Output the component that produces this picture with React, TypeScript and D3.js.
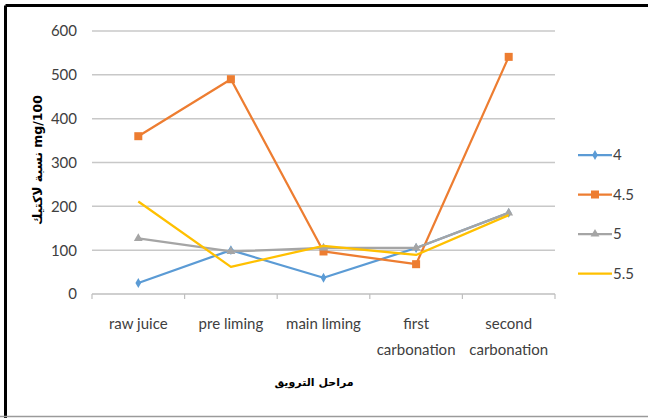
import React from "react";
import * as d3 from "d3";

const stages = ["raw juice", "pre liming", "main liming", "first carbonation", "second carbonation"];
const stageLines = [["raw juice"], ["pre liming"], ["main liming"], ["first", "carbonation"], ["second", "carbonation"]];
const seriesNames = ["4", "4.5", "5", "5.5"];
const values4 = [25, 100, 37, 105, 185];
const values45 = [360, 490, 97, 68, 541];
const values5 = [127, 97, 105, 105, 185];
const values55 = [211, 62, 110, 89, 180];
const yTicks = [0, 100, 200, 300, 400, 500, 600];
const colors = ["#5b9bd5", "#ed7d31", "#a5a5a5", "#ffc000"];
const markers = ["diamond", "square", "triangle", "none"];

const W = 648;
const H = 418;
const plot = { left: 92, right: 555, top: 31, bottom: 294 };

const x = d3.scaleBand<string>().domain(stages).range([plot.left, plot.right]);
const y = d3.scaleLinear().domain([0, 600]).range([plot.bottom, plot.top]);
const cx = (s: string) => (x(s) as number) + x.bandwidth() / 2;

const allSeries = [values4, values45, values5, values55];
const tickFont = "Lato, 'Open Sans', sans-serif";

function Marker({ kind, px, py, color }: { kind: string; px: number; py: number; color: string }) {
  if (kind === "square") {
    return <rect x={px - 4} y={py - 4} width={8} height={8} fill={color} />;
  }
  if (kind === "diamond") {
    const d = d3.symbol(d3.symbolDiamond, 28)();
    return <path d={d || ""} transform={`translate(${px},${py})`} fill={color} />;
  }
  if (kind === "triangle") {
    const d = d3.symbol(d3.symbolTriangle, 34)();
    return <path d={d || ""} transform={`translate(${px},${py})`} fill={color} />;
  }
  return null;
}

export default function App() {
  const line = d3
    .line<number>()
    .x((_, i) => cx(stages[i]))
    .y((v) => y(v));

  return (
    <svg
      width={W}
      height={H}
      style={{ position: "absolute", left: 0, top: 0, background: "#fff" }}
    >
      <rect x={0} y={0} width={W} height={H} fill="#fff" />
      {/* frame */}
      <line x1={5.5} y1={5.5} x2={W} y2={5.5} stroke="#000" strokeWidth={3} />
      <line x1={5.5} y1={5.5} x2={5.5} y2={H} stroke="#000" strokeWidth={3} />
      <line x1={0} y1={416.5} x2={W} y2={416.5} stroke="#9a9a9a" strokeWidth={1.5} />

      {/* gridlines */}
      {yTicks.map((t) => (
        <line
          key={t}
          x1={plot.left}
          x2={plot.right}
          y1={y(t)}
          y2={y(t)}
          stroke={t === 0 ? "#bfbfbf" : "#c8c8c8"}
          strokeWidth={1.5}
        />
      ))}
      {/* category tick marks */}
      {d3.range(stages.length + 1).map((i) => {
        const tx = plot.left + i * x.bandwidth();
        return <line key={i} x1={tx} x2={tx} y1={plot.bottom} y2={plot.bottom + 5} stroke="#bfbfbf" strokeWidth={1.2} />;
      })}

      {/* y tick labels */}
      {yTicks.map((t) => (
        <text
          key={t}
          x={77}
          y={y(t)}
          dy="0.36em"
          textAnchor="end"
          fontFamily={tickFont}
          fontSize={15}
          fill="#404040"
        >
          {t}
        </text>
      ))}

      {/* category labels */}
      {stages.map((s, i) => (
        <text key={s} x={cx(s)} y={329} textAnchor="middle" fontFamily={tickFont} fontSize={15} fill="#404040">
          {stageLines[i].map((ln, j) => (
            <tspan key={j} x={cx(s)} dy={j === 0 ? 0 : 26}>
              {ln}
            </tspan>
          ))}
        </text>
      ))}

      {/* axis titles */}
      <text
        transform={`translate(42,160) rotate(-90)`}
        textAnchor="middle"
        fontFamily="'DejaVu Sans', sans-serif"
        fontSize={12.5}
        fontWeight="bold"
        fill="#000"
      >
        نسبة لاكتيك mg/100
      </text>
      <text x={314} y={386} textAnchor="middle" fontFamily="'DejaVu Sans', sans-serif" fontSize={11} fontWeight="bold" fill="#000">
        مراحل الترويق
      </text>

      {/* series */}
      {allSeries.map((vals, si) => (
        <g key={seriesNames[si]}>
          <path d={line(vals) || ""} fill="none" stroke={colors[si]} strokeWidth={2.25} strokeLinejoin="round" />
          {vals.map((v, i) => (
            <Marker key={i} kind={markers[si]} px={cx(stages[i])} py={y(v)} color={colors[si]} />
          ))}
        </g>
      ))}

      {/* legend */}
      {seriesNames.map((n, i) => {
        const ly = 155 + i * 39.5;
        return (
          <g key={n}>
            <line x1={578} x2={612} y1={ly} y2={ly} stroke={colors[i]} strokeWidth={2.25} />
            <Marker kind={markers[i]} px={595} py={ly} color={colors[i]} />
            <text x={613} y={ly} dy="0.36em" fontFamily={tickFont} fontSize={15} fill="#404040">
              {n}
            </text>
          </g>
        );
      })}
    </svg>
  );
}
